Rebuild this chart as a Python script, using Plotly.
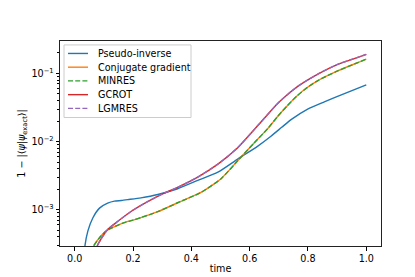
import plotly.graph_objects as go

# Pseudo-inverse
t_pinv = [0.032, 0.035, 0.045, 0.062, 0.085, 0.113, 0.136, 0.160, 0.182, 0.227, 0.285, 0.353, 0.422, 0.491, 0.559, 0.628, 0.673, 0.710, 0.742, 0.799, 0.856, 0.925, 1.000]
v_pinv = [2.0e-4, 2.96e-4, 4.88e-4, 7.60e-4, 1.06e-3, 1.25e-3, 1.34e-3, 1.37e-3, 1.41e-3, 1.50e-3, 1.68e-3, 2.04e-3, 2.70e-3, 3.56e-3, 5.55e-3, 8.61e-3, 1.20e-2, 1.62e-2, 2.10e-2, 3.00e-2, 3.83e-2, 5.05e-2, 6.79e-2]

# Conjugate gradient / MINRES
t_cg = [0.060, 0.065, 0.090, 0.105, 0.125, 0.145, 0.170, 0.200, 0.227, 0.285, 0.353, 0.433, 0.502, 0.559, 0.616, 0.662, 0.696, 0.730, 0.765, 0.800, 0.834, 0.902, 0.971, 1.000]
v_cg = [2.4e-4, 2.95e-4, 4.13e-4, 4.79e-4, 5.40e-4, 5.89e-4, 6.50e-4, 7.08e-4, 7.70e-4, 9.40e-4, 1.27e-3, 1.80e-3, 2.86e-3, 5.24e-3, 9.61e-3, 1.55e-2, 2.34e-2, 3.39e-2, 4.79e-2, 6.31e-2, 7.85e-2, 1.09e-1, 1.44e-1, 1.62e-1]

# GCROT / LGMRES
t_gc = [0.072, 0.077, 0.090, 0.113, 0.148, 0.193, 0.250, 0.300, 0.353, 0.422, 0.491, 0.559, 0.628, 0.696, 0.730, 0.765, 0.834, 0.902, 0.971, 1.000]
v_gc = [2.4e-4, 2.95e-4, 3.72e-4, 5.15e-4, 6.79e-4, 9.46e-4, 1.32e-3, 1.70e-3, 2.14e-3, 3.02e-3, 4.68e-3, 8.15e-3, 1.72e-2, 3.62e-2, 4.90e-2, 6.46e-2, 9.77e-2, 1.36e-1, 1.72e-1, 1.90e-1]

series = [
    ("Pseudo-inverse", t_pinv, v_pinv, "#1f77b4", "solid"),
    ("Conjugate gradient", t_cg, v_cg, "#ff7f0e", "solid"),
    ("MINRES", t_cg, v_cg, "#2ca02c", "5px,2.2px"),
    ("GCROT", t_gc, v_gc, "#d62728", "solid"),
    ("LGMRES", t_gc, v_gc, "#9467bd", "5px,2.2px"),
]

x_ticks = [0.0, 0.2, 0.4, 0.6, 0.8, 1.0]
x_ticklabels = ["0.0", "0.2", "0.4", "0.6", "0.8", "1.0"]
y_ticks = [1e-3, 1e-2, 1e-1]
y_ticklabels = ["10<sup>−3</sup>", "10<sup>−2</sup>", "10<sup>−1</sup>"]
y_minor = [m * 10.0 ** e for e in (-4, -3, -2, -1) for m in range(2, 10)]

FS = 9.6
fig = go.Figure()
for name, t, v, color, dash in series:
    fig.add_trace(go.Scatter(x=t, y=v, mode="lines", name=name, showlegend=False,
                             line=dict(color=color, width=1.4, dash=dash, shape="spline", smoothing=0.6)))

# legend drawn as shapes + text (layout only)
L, R, T, B = 52, 373, 33, 242
def px(x):
    return (x - L) / (R - L)
def py(y):
    return (B - y) / (B - T)

shapes = [dict(type="rect", xref="paper", yref="paper", x0=px(56), x1=px(183), y0=py(111), y1=py(37),
               line=dict(color="#cccccc", width=1), fillcolor="rgba(255,255,255,0.8)", layer="above")]
annotations = []
for i, (name, t, v, color, dash) in enumerate(series):
    yy = 45.7 + i * 14.0
    shapes.append(dict(type="line", xref="paper", yref="paper", x0=px(60), x1=px(80), y0=py(yy), y1=py(yy),
                       line=dict(color=color, width=1.4, dash=dash), layer="above"))
    annotations.append(dict(xref="paper", yref="paper", x=px(87.5), y=py(yy), text=name, showarrow=False,
                            xanchor="left", yanchor="middle", font=dict(family="DejaVu Sans", size=FS, color="black")))

fig.update_layout(
    width=415, height=277,
    margin=dict(l=L, r=415 - R, t=T, b=277 - B),
    paper_bgcolor="white", plot_bgcolor="white",
    font=dict(family="DejaVu Sans", size=FS, color="black"),
    showlegend=False,
    shapes=shapes, annotations=annotations,
    xaxis=dict(range=[-0.0505, 1.0505], tickvals=x_ticks, ticktext=x_ticklabels,
               ticks="outside", ticklen=3.5, tickwidth=0.8, tickcolor="black",
               showgrid=False, zeroline=False, showline=True, linecolor="#222222", linewidth=1,
               mirror=True, title=dict(text="time", font=dict(size=FS), standoff=2)),
    yaxis=dict(type="log", range=[-3.53, -0.525], tickvals=y_ticks, ticktext=y_ticklabels,
               ticks="outside", ticklen=3.5, tickwidth=0.8, tickcolor="black",
               minor=dict(tickvals=y_minor, ticks="outside", ticklen=2, tickwidth=0.6, tickcolor="black", showgrid=False),
               showgrid=False, zeroline=False, showline=True, linecolor="#222222", linewidth=1,
               mirror=True,
               title=dict(text="1 − |⟨<i>ψ</i>|<i>ψ</i><sub>exact</sub>⟩|", font=dict(size=FS), standoff=4)),
)

fig.write_html("out.html")
